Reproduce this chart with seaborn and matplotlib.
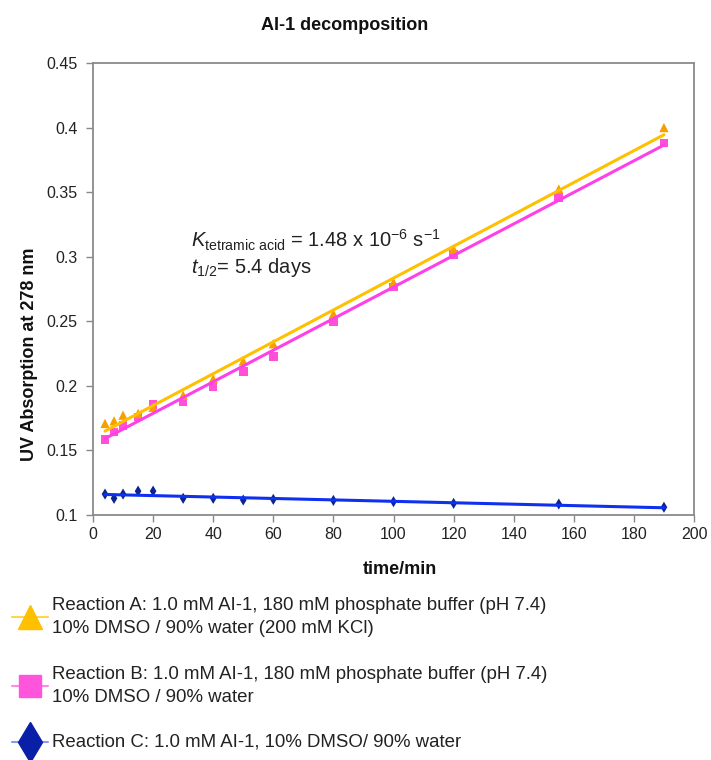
import matplotlib
matplotlib.use("Agg")
import numpy as np
import pandas as pd
import seaborn as sns
import matplotlib.pyplot as plt
from matplotlib.lines import Line2D

# ---- data ----
time_min = [4, 7, 10, 15, 20, 30, 40, 50, 60, 80, 100, 120, 155, 190]
reaction_a = [0.1709, 0.1729, 0.1773, 0.1786, 0.1834, 0.1927, 0.2056, 0.2192,
              0.2326, 0.2558, 0.2803, 0.3060, 0.3524, 0.4000]
reaction_b = [0.1585, 0.1644, 0.1695, 0.1760, 0.1855, 0.1875, 0.1997, 0.2113,
              0.2228, 0.2493, 0.2764, 0.3017, 0.3460, 0.3880]
reaction_c = [0.1162, 0.1129, 0.1162, 0.1185, 0.1185, 0.1129, 0.1129, 0.1116,
              0.1121, 0.1113, 0.1103, 0.1090, 0.1085, 0.1060]
series_labels = [
    "Reaction A: 1.0 mM AI-1, 180 mM phosphate buffer (pH 7.4)\n10% DMSO / 90% water (200 mM KCl)",
    "Reaction B: 1.0 mM AI-1, 180 mM phosphate buffer (pH 7.4)\n10% DMSO / 90% water",
    "Reaction C: 1.0 mM AI-1, 10% DMSO/ 90% water",
]
x_ticks = [0, 20, 40, 60, 80, 100, 120, 140, 160, 180, 200]
y_ticks = [0.1, 0.15, 0.2, 0.25, 0.3, 0.35, 0.4, 0.45]
y_tick_labels = ["0.1", "0.15", "0.2", "0.25", "0.3", "0.35", "0.4", "0.45"]

sns.set_theme(style="white")
plt.rcParams['font.family'] = ['Liberation Sans', 'DejaVu Sans']
plt.rcParams['mathtext.fontset'] = 'custom'
plt.rcParams['mathtext.rm'] = 'Liberation Sans'
plt.rcParams['mathtext.it'] = 'Liberation Sans:italic'
plt.rcParams['mathtext.bf'] = 'Liberation Sans:bold'

df = pd.DataFrame({"time": time_min, "A": reaction_a, "B": reaction_b, "C": reaction_c})

W, H = 711, 760
fig = plt.figure(figsize=(W / 100, H / 100), dpi=100)
ax = fig.add_axes([93 / W, 1 - 515 / H, (694 - 93) / W, (515 - 63) / H])

styles = {
    "A": dict(line="#FFC000", mk="#F5A000", marker="^", s=45),
    "B": dict(line="#FF3FE8", mk="#FF50D8", marker="s", s=38),
    "C": dict(line="#1030F0", mk="#0B2590", marker="d", s=32),
}
for key in ["C", "B", "A"]:
    st = styles[key]
    sns.scatterplot(data=df, x="time", y=key, ax=ax, marker=st["marker"], s=st["s"],
                    color=st["mk"], edgecolor="none", zorder=3, legend=False)
    sns.regplot(data=df, x="time", y=key, ax=ax, ci=None, scatter=False,
                line_kws=dict(color=st["line"], lw=2.2, zorder=4))

ax.set_xlim(0, 200)
ax.set_ylim(0.1, 0.45)
ax.set_xticks(x_ticks)
ax.set_xticklabels([str(t) for t in x_ticks])
ax.set_yticks(y_ticks)
ax.set_yticklabels(y_tick_labels)
ax.tick_params(axis="both", which="major", direction="out", length=5, width=1,
               color="#888888", labelsize=11.5, labelcolor="#222222",
               bottom=True, left=True)
ax.tick_params(axis="x", pad=3.5)
ax.tick_params(axis="y", pad=6)
for sp in ax.spines.values():
    sp.set_color("#8a8a8a")
    sp.set_linewidth(1.3)
ax.set_xlabel("")
ax.set_ylabel("")

fig.text(400 / W, 1 - 569 / H, "time/min", fontsize=13, fontweight="bold",
         ha="center", va="center", color="#111111")
fig.text(30 / W, 1 - 354 / H, "UV Absorption at 278 nm", fontsize=13,
         fontweight="bold", rotation=90, ha="center", va="center", color="#111111")

ax.text(32.5, 0.3125, r"$K_{\mathrm{tetramic\ acid}}$ = 1.48 x 10$^{-6}$ s$^{-1}$",
        fontsize=14.5, ha="left", va="center", color="#222222")
ax.text(32.5, 0.2918, r"$t_{\mathrm{1/2}}$= 5.4 days",
        fontsize=14.5, ha="left", va="center", color="#222222")

fig.text(345 / W, 1 - 25 / H, "AI-1 decomposition", fontsize=13,
         fontweight="bold", ha="center", va="center", color="#111111")

# ---- legend (drawn manually below the chart) ----
legend_items = [
    dict(y=617, line="#FFD54A", face="#FFC000", marker="^", ms=17),
    dict(y=686, line="#FF8AEA", face="#FF55DD", marker="s", ms=16),
    dict(y=742, line="#8A9AEE", face="#0A1FA8", marker="d", ms=20.5),
]
for item, label in zip(legend_items, series_labels):
    yf = 1 - item["y"] / H
    fig.add_artist(Line2D([12 / W, 48 / W], [yf, yf], transform=fig.transFigure,
                          color=item["line"], lw=1.5))
    fig.add_artist(Line2D([30 / W], [yf], transform=fig.transFigure, lw=0,
                          marker=item["marker"], markersize=item["ms"],
                          markerfacecolor=item["face"], markeredgecolor=item["face"]))
    fig.text(52 / W, yf, label, fontsize=13.4, ha="left", va="center",
             linespacing=1.42, color="#222222")

fig.savefig("out.png", dpi=100)
